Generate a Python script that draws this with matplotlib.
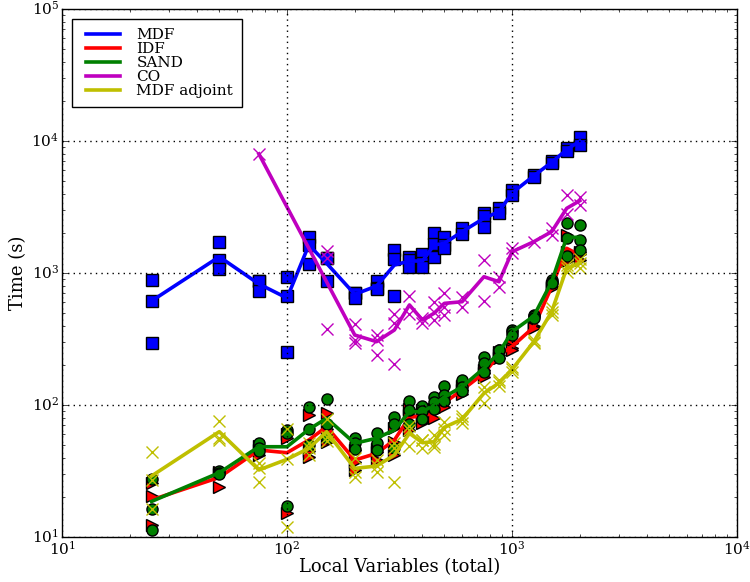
import matplotlib
matplotlib.use("Agg")
import matplotlib.pyplot as plt

plt.style.use("classic")
plt.rcParams["font.family"] = "serif"
plt.rcParams["font.serif"] = ["DejaVu Serif"]
plt.rcParams["mathtext.fontset"] = "dejavuserif"

# ---------------------------  Data  --------------------------- #

n_vars = [25, 50, 75, 100, 125, 150, 200, 250, 300, 350, 400,
          450, 500, 600, 750, 875, 1000, 1250, 1500, 1750, 2000]

mdf_pts = [[888, 614, 295], [1727, 1254, 1072], [874, 870, 734],
           [937, 673, 251], [1884, 1630, 1164], [1306, 1300, 869],
           [709, 700, 650], [874, 770, 753], [1493, 1270, 670],
           [1328, 1250, 1116], [1393, 1200, 1116], [2000, 1649, 1328],
           [1884, 1620, 1538], [2203, 1963], [2864, 2700, 2218],
           [3090, 2833], [4256, 3900], [5525, 5300], [7100, 6800],
           [8800, 8400], [10790, 9330]]
mdf_line = [614, 1328, 826, 646, 1630, 1184, 690, 797, 1150, 1233, 1233,
            1630, 1679, 2056, 2596, 2917, 4036, 5450, 6900, 8600, 10000]

idf_pts = [[25.5, 20.5, 12.3], [31, 30, 23.8], [49, 46, 42], [60, 56, 15.1],
           [84, 45, 40.6], [86.5, 66, 52.7], [45.5, 37.2, 32.2],
           [46.4, 44.3, 38.3], [66.6, 52.7, 41.8], [93, 84, 64.7],
           [91, 84, 72.7], [93, 89, 79.3], [112, 105, 96], [140, 130, 121],
           [185, 175, 163], [250, 240, 228], [293, 270, 260],
           [400, 392, 385], [800, 787, 775], [1941, 1449, 1224],
           [1449, 1400, 1254]]
idf_line = [19.1, 28.3, 45.6, 43.5, 54.3, 68.5, 38.3, 43, 54.3, 80.7, 82.6,
            87, 104, 130, 174, 239, 277, 390, 787, 1538, 1368]

sand_pts = [[27.5, 16.2, 11.4], [31.6, 30.5, 30], [51.3, 47.5, 45.1],
            [64.7, 61, 17.2], [96.1, 65.4, 49.8], [110.5, 71.4, 56],
            [56, 51.3, 46.6], [61, 51.3, 45.6], [80.7, 71.4, 47],
            [107.2, 91.7, 71.4], [98.3, 90.1, 78], [115.6, 105.9, 92.8],
            [139.3, 119, 107.2], [154.6, 137.6, 128.3], [232, 209, 179],
            [261, 260, 226], [370, 359, 339], [481, 470, 454],
            [885, 860, 835], [2405, 1841, 1346], [2310, 1790, 1493]]
sand_line = [18.6, 30.7, 48.3, 48.3, 65.4, 79.3, 51.3, 56, 64.7, 89, 89,
             100, 115, 137.6, 190, 249, 359, 472, 859, 1864, 1864]

co_x = [75, 150, 200, 250, 300, 350, 400, 450, 500, 600, 750, 875,
        1000, 1250, 1500, 1750, 2000]
co_pts = [[7976], [1468, 1292, 376], [409, 311, 297], [339, 311, 239],
          [487, 416, 203], [673, 489], [454, 420], [600, 509, 440],
          [702, 556, 478], [661, 556], [1254, 617], [937, 787],
          [1538, 1410], [1727], [2182, 1941], [3900, 2786], [3785, 3273]]
co_line_x = [75, 200, 250, 300, 350, 400, 450, 500, 600, 750, 875,
             1000, 1250, 1500, 1750, 2000]
co_line = [7976, 339, 302, 370, 573, 440, 495, 589, 606, 937, 859,
           1449, 1727, 2056, 3090, 3530]

adj_pts = [[43.8, 27, 16.3], [76, 56.5, 54.3], [36.2, 33.1, 26.2],
           [65.4, 39, 12], [52, 47, 42], [78, 57, 53], [39.8, 31.2, 28.3],
           [38, 34.3, 31.2], [52, 47, 26.2], [69.4, 64.7, 48.9],
           [54.2, 54, 47], [59.3, 50.5, 48.3], [74.7, 65.4, 59.3],
           [82.6, 78.5, 72.7], [137.6, 126, 104], [155, 150, 140],
           [195, 186, 179], [311, 302, 295], [541, 509, 480],
           [1150, 1100, 1010], [1270, 1200, 1086]]
adj_line = [29, 62.8, 32.2, 38.8, 47, 62.8, 33.1, 34.5, 41.8, 61, 51.8,
            52.7, 67.8, 78, 122.7, 147, 186, 302, 509, 1086, 1185]


def flatten(xs, groups):
    px, py = [], []
    for x, grp in zip(xs, groups):
        for v in grp:
            px.append(x)
            py.append(v)
    return px, py


# ---------------------------  Plot  --------------------------- #

fig = plt.figure(figsize=(7.5, 5.82), dpi=100, facecolor="white")
ax = fig.add_axes([0.0827, 0.0773, 0.9, 0.9072])

series = [
    ("MDF", n_vars, mdf_pts, n_vars, mdf_line, "b", "s"),
    ("IDF", n_vars, idf_pts, n_vars, idf_line, "r", ">"),
    ("SAND", n_vars, sand_pts, n_vars, sand_line, "g", "o"),
    ("CO", co_x, co_pts, co_line_x, co_line, "m", "x"),
    ("MDF adjoint", n_vars, adj_pts, n_vars, adj_line, "y", "x"),
]

for label, xs, pts, lx, ly, col, mk in series:
    px, py = flatten(xs, pts)
    if mk == "x":
        ax.plot(px, py, linestyle="none", marker=mk, color=col,
                markersize=8, markeredgewidth=1.0)
    else:
        ax.plot(px, py, linestyle="none", marker=mk, markerfacecolor=col,
                markeredgecolor="k", markersize=8, markeredgewidth=1.0)
    ax.plot(lx, ly, color=col, linewidth=2.6, label=label)

ax.set_xscale("log")
ax.set_yscale("log")
ax.set_xlim(10, 1e4)
ax.set_ylim(10, 1e5)
ax.grid(True, which="major", color="k", linestyle=":", linewidth=1.0)
ax.tick_params(which="both", labelsize=11, pad=2)

ax.set_xlabel("Local Variables (total)", fontsize=13, labelpad=0)
ax.set_ylabel("Time (s)", fontsize=13, labelpad=3)

ax.legend(loc="upper left", bbox_to_anchor=(0.015, 0.981), borderaxespad=0,
          fontsize=11, labelspacing=0.0, handlelength=2.8, frameon=True,
          borderpad=0.6)

fig.savefig("out.png", dpi=100, facecolor="white")
